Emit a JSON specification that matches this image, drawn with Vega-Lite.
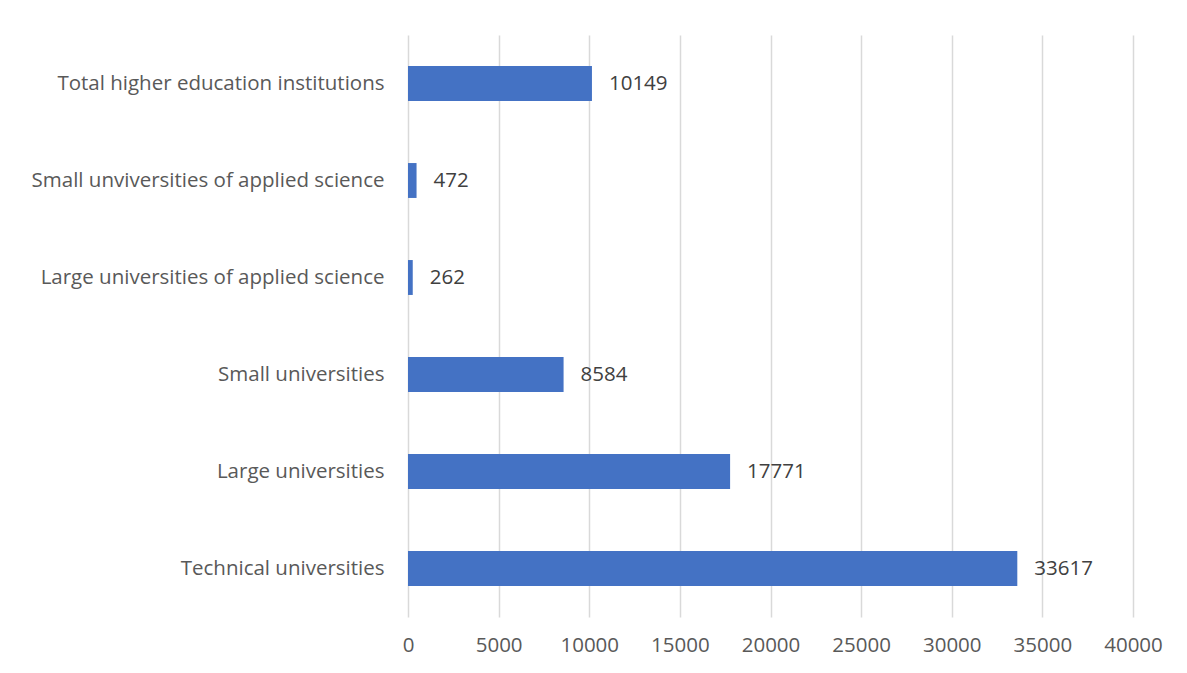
{
  "$schema": "https://vega.github.io/schema/vega-lite/v6.json",
  "width": 725,
  "height": 582,
  "autosize": {"type": "none"},
  "padding": {"left": 408, "top": 35, "right": 54, "bottom": 56},
  "background": "white",
  "config": {"view": {"stroke": null}, "font": "Open Sans"},
  "data": {
    "values": [
      {"category": "Total higher education institutions", "value": 10149},
      {"category": "Small unviversities of applied science", "value": 472},
      {"category": "Large universities of applied science", "value": 262},
      {"category": "Small universities", "value": 8584},
      {"category": "Large universities", "value": 17771},
      {"category": "Technical universities", "value": 33617}
    ]
  },
  "encoding": {
    "y": {
      "field": "category",
      "type": "nominal",
      "sort": null,
      "title": null,
      "scale": {"paddingInner": 0.64, "paddingOuter": 0.32},
      "axis": {
        "domain": false,
        "ticks": false,
        "labelFontSize": 20.5,
        "labelColor": "#595959",
        "labelPadding": 24,
        "labelLimit": 400,
        "labelFont": "Open Sans"
      }
    },
    "x": {
      "field": "value",
      "type": "quantitative",
      "title": null,
      "scale": {"domain": [0, 40000], "nice": false},
      "axis": {
        "values": [0, 5000, 10000, 15000, 20000, 25000, 30000, 35000, 40000],
        "format": "d",
        "domain": false,
        "ticks": false,
        "grid": true,
        "gridColor": "#d9d9d9",
        "gridWidth": 1.5,
        "labelFontSize": 20.5,
        "labelColor": "#595959",
        "labelPadding": 18,
        "labelFlush": false,
        "labelOverlap": false,
        "labelFont": "Open Sans"
      }
    }
  },
  "layer": [
    {"mark": {"type": "bar", "color": "#4472C4"}},
    {
      "mark": {"type": "text", "align": "left", "baseline": "middle", "dx": 17, "fontSize": 20.5, "color": "#404040", "font": "Open Sans"},
      "encoding": {"text": {"field": "value", "type": "quantitative", "format": "d"}}
    }
  ]
}
